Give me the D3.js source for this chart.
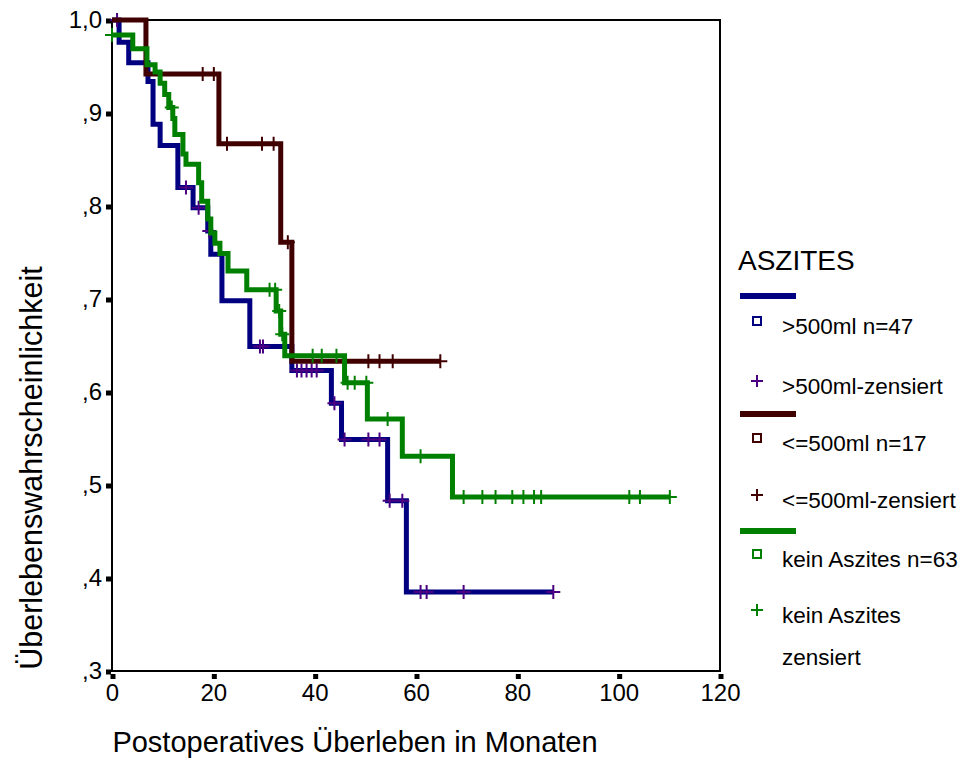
<!DOCTYPE html>
<html>
<head>
<meta charset="utf-8">
<script src="https://cdn.jsdelivr.net/npm/d3@7"></script>
<style>
  html, body { margin: 0; padding: 0; background: #fff; }
  svg { display: block; font-family: "Liberation Sans", Arial, sans-serif; }
</style>
</head>
<body>
<svg id="chart" width="969" height="783"></svg>
<script>
// ---- data ----
const xTickValues = [0, 20, 40, 60, 80, 100, 120];
const xTickLabels = ["0", "20", "40", "60", "80", "100", "120"];
const yTickValues = [0.3, 0.4, 0.5, 0.6, 0.7, 0.8, 0.9, 1.0];
const yTickLabels = [",3", ",4", ",5", ",6", ",7", ",8", ",9", "1,0"];

// >500ml n=47
const blueTimes = [0, 1.4, 3.3, 7.1, 8.1, 9.5, 13.0, 16.0, 18.9, 19.5, 21.7, 27.2, 35.5, 43.3, 45.3, 54.4, 58.1];
const blueSurv  = [1.0, 0.976, 0.954, 0.934, 0.888, 0.865, 0.820, 0.798, 0.773, 0.748, 0.698, 0.649, 0.623, 0.588, 0.549, 0.483, 0.385];
const blueCensored = [1.0, 14.6, 17.1, 19.2, 29.2, 29.8, 36.5, 37.4, 38.4, 39.4, 40.4, 43.9, 45.9, 50.6, 52.8, 54.8, 57.3, 60.9, 62.1, 69.4, 87.1];

// <=500ml n=17
const brownTimes = [0, 6.7, 21.1, 33.3, 35.5];
const brownSurv  = [1.0, 0.942, 0.867, 0.761, 0.633];
const brownCensored = [17.9, 20.1, 22.7, 29.6, 31.9, 34.7, 45.9, 50.6, 52.8, 55.4, 64.8];

// kein Aszites n=63
const greenTimes = [0, 4.1, 6.9, 8.5, 9.5, 10.4, 11.2, 12.0, 12.4, 14.0, 14.6, 17.1, 17.7, 18.9, 19.5, 20.3, 21.3, 22.9, 26.6, 32.4, 33.3, 34.1, 45.9, 50.4, 57.3, 67.2];
const greenSurv  = [0.984, 0.969, 0.952, 0.944, 0.932, 0.920, 0.906, 0.894, 0.877, 0.856, 0.845, 0.825, 0.805, 0.786, 0.771, 0.760, 0.749, 0.730, 0.710, 0.687, 0.662, 0.639, 0.610, 0.571, 0.531, 0.487];
const greenCensored = [0, 11.8, 31.1, 32.2, 33.0, 33.6, 39.6, 41.4, 44.3, 46.5, 47.9, 50.2, 54.4, 60.9, 69.4, 73.1, 75.7, 79.0, 81.2, 83.3, 84.7, 102.1, 104.2, 110.1];

const seriesNames = [">500ml n=47", "<=500ml n=17", "kein Aszites n=63"];
const censorNames = [">500ml-zensiert", "<=500ml-zensiert", "kein Aszites"];

// ---- layout ----
const svg = d3.select("#chart");
const pLeft = 112, pRight = 720, pTop = 20, pBottom = 671;
const x = d3.scaleLinear().domain([0, 120]).range([pLeft, pRight]);
const y = d3.scaleLinear().domain([0.3, 1.0]).range([pBottom, pTop]);

const series = [
  { times: blueTimes, surv: blueSurv, cens: blueCensored, line: "#000080", mark: "#4b0082" },
  { times: brownTimes, surv: brownSurv, cens: brownCensored, line: "#400000", mark: "#400000" },
  { times: greenTimes, surv: greenSurv, cens: greenCensored, line: "#008000", mark: "#008000" }
];

// frame
svg.append("rect").attr("x", pLeft).attr("y", pTop).attr("width", pRight - pLeft).attr("height", pBottom - pTop)
  .attr("fill", "none").attr("stroke", "#000").attr("stroke-width", 2);

// axes
const xAxis = d3.axisBottom(x).tickValues(xTickValues).tickSize(0).tickPadding(13)
  .tickFormat((d, i) => xTickLabels[i]);
const gx = svg.append("g").attr("transform", `translate(0,${pBottom})`).call(xAxis);
gx.select(".domain").remove();
gx.selectAll(".tick text").attr("font-size", 24).attr("fill", "#000").attr("font-family", "Liberation Sans, Arial, sans-serif");
gx.selectAll(".tick").append("rect").attr("x", -2).attr("y", 3).attr("width", 5).attr("height", 5).attr("fill", "#000");

const yAxis = d3.axisLeft(y).tickValues(yTickValues).tickSize(0).tickPadding(10)
  .tickFormat((d, i) => yTickLabels[i]);
const gy = svg.append("g").attr("transform", `translate(${pLeft},0)`).call(yAxis);
gy.select(".domain").remove();
gy.selectAll(".tick text").attr("font-size", 24).attr("fill", "#000").attr("font-family", "Liberation Sans, Arial, sans-serif");
gy.selectAll(".tick").append("rect").attr("x", -6).attr("y", -2).attr("width", 5).attr("height", 5).attr("fill", "#000");

// survival step function lookup
function survAt(s, t) {
  let v = s.surv[0];
  for (let i = 0; i < s.times.length; i++) if (s.times[i] <= t) v = s.surv[i];
  return v;
}

const line = d3.line().x(d => x(d[0])).y(d => y(d[1])).curve(d3.curveStepAfter);
const plot = svg.append("g");
series.forEach(s => {
  const pts = s.times.map((t, i) => [t, s.surv[i]]);
  const tEnd = d3.max(s.cens.concat(s.times));
  pts.push([tEnd, s.surv[s.surv.length - 1]]);
  plot.append("path").attr("d", line(pts)).attr("fill", "none")
    .attr("stroke", s.line).attr("stroke-width", 5).attr("stroke-linejoin", "miter");
  plot.selectAll(null).data(s.cens).enter().append("path")
    .attr("transform", t => `translate(${x(t)},${y(survAt(s, t))})`)
    .attr("d", "M-7,0H7M0,-7V7")
    .attr("stroke", s.mark).attr("stroke-width", 2).attr("fill", "none");
});

// titles
svg.append("text").attr("x", 355).attr("y", 752).attr("text-anchor", "middle")
  .attr("font-size", 29).text("Postoperatives Überleben in Monaten");
svg.append("text").attr("transform", "translate(42,468) rotate(-90)").attr("text-anchor", "middle")
  .attr("font-size", 30.5).text("Überlebenswahrscheinlichkeit");

// legend
const lg = svg.append("g");
lg.append("text").attr("x", 738).attr("y", 270).attr("font-size", 28).text("ASZITES");
const legendLineY = [296, 414, 531];
const legendSquareY = [321, 438, 554];
const legendPlusY = [381, 495, 610];
series.forEach((s, i) => {
  lg.append("line").attr("x1", 740).attr("x2", 796).attr("y1", legendLineY[i]).attr("y2", legendLineY[i])
    .attr("stroke", s.line).attr("stroke-width", 6);
  lg.append("rect").attr("x", 753).attr("y", legendSquareY[i] - 4).attr("width", 8).attr("height", 8)
    .attr("fill", "none").attr("stroke", s.line).attr("stroke-width", 2);
  lg.append("text").attr("x", 782).attr("y", legendSquareY[i] + 13).attr("font-size", 22.5).text(seriesNames[i]);
  lg.append("path").attr("transform", `translate(757,${legendPlusY[i]})`).attr("d", "M-6,0H6M0,-6V6")
    .attr("stroke", s.mark).attr("stroke-width", 2);
  lg.append("text").attr("x", 782).attr("y", legendPlusY[i] + 13).attr("font-size", 22.5).text(censorNames[i]);
});
lg.append("text").attr("x", 782).attr("y", 665).attr("font-size", 22.5).text("zensiert");
</script>
</body>
</html>
